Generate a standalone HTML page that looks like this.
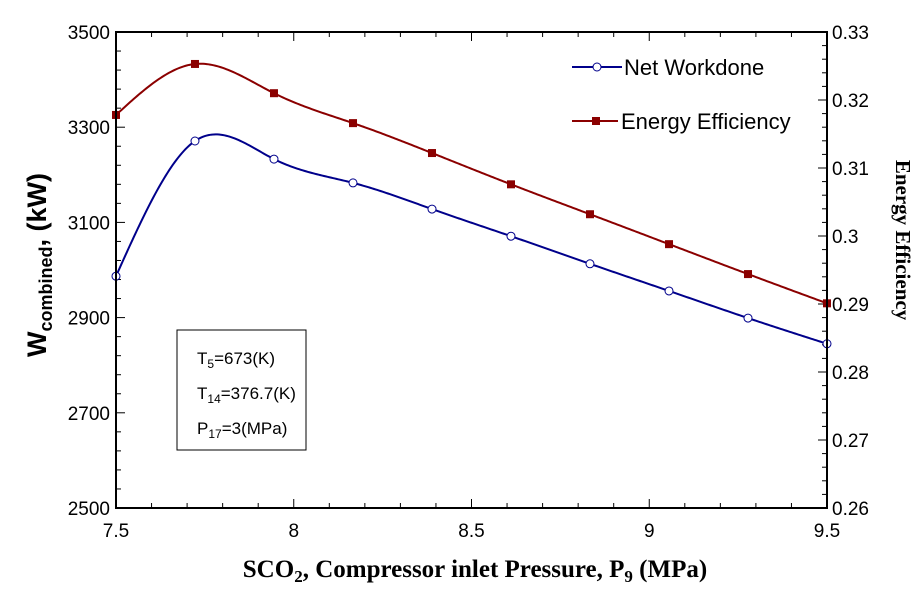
<!DOCTYPE html>
<html><head><meta charset="utf-8"><style>
body{margin:0;background:#fff;}
svg text{font-family:"Liberation Sans",sans-serif;}
</style></head><body>
<svg id="chart" width="924" height="600" xmlns="http://www.w3.org/2000/svg">
<g id="ticks"></g>
<g id="series"></g>
<g>
 <line x1="572" y1="67" x2="622" y2="67" stroke="#00008B" stroke-width="2"/>
 <circle cx="597" cy="67" r="4" fill="#fff" stroke="#00008B" stroke-width="1"/>
 <text x="624" y="75" font-size="22">Net Workdone</text>
 <line x1="572" y1="121" x2="618" y2="121" stroke="#8B0000" stroke-width="2"/>
 <rect x="592" y="117" width="8" height="8" fill="#8B0000"/>
 <text x="621" y="129" font-size="22">Energy Efficiency</text>
</g>
<g>
 <rect x="177" y="330" width="129" height="120" fill="#fff" stroke="#000" stroke-width="1"/>
 <text x="197" y="364" font-size="17">T<tspan font-size="12" dy="4">5</tspan><tspan dy="-4">=673(K)</tspan></text>
 <text x="197" y="399" font-size="17">T<tspan font-size="12" dy="4">14</tspan><tspan dy="-4">=376.7(K)</tspan></text>
 <text x="197" y="434" font-size="17">P<tspan font-size="12" dy="4">17</tspan><tspan dy="-4">=3(MPa)</tspan></text>
</g>
<rect x="116" y="32" width="711" height="476" fill="none" stroke="#000" stroke-width="2"/>
<text x="475" y="577" text-anchor="middle" font-size="25" font-weight="bold" style="font-family:'Liberation Serif',serif">SCO<tspan font-size="17" dy="5">2</tspan><tspan dy="-5">, Compressor inlet Pressure, P</tspan><tspan font-size="17" dy="5">9</tspan><tspan dy="-5"> (MPa)</tspan></text>
<text transform="translate(46,265) rotate(-90)" text-anchor="middle" font-size="27" font-weight="bold">W<tspan font-size="18" dy="6">combined</tspan><tspan dy="-6">, (kW)</tspan></text>
<text transform="translate(896,240) rotate(90)" text-anchor="middle" font-size="21" font-weight="bold" style="font-family:'Liberation Serif',serif">Energy Efficiency</text>
</svg>
<script>
const xVals=[7.5,7.7222,7.9444,8.1667,8.3889,8.6111,8.8333,9.0556,9.2778,9.5];
const netWork=[2987,3271,3233,3183,3128,3071,3013,2956,2899,2845];
const efficiency=[0.3178,0.3253,0.3210,0.3166,0.3122,0.3076,0.3032,0.2988,0.2944,0.2901];
const xTicks=[7.5,8,8.5,9,9.5];
const xTickLabels=["7.5","8","8.5","9","9.5"];
const yTicks=[2500,2700,2900,3100,3300,3500];
const y2Ticks=[0.26,0.27,0.28,0.29,0.30,0.31,0.32,0.33];
const y2TickLabels=["0.26","0.27","0.28","0.29","0.3","0.31","0.32","0.33"];
const L=116,R=827,T=32,B=508,NS="http://www.w3.org/2000/svg";
const sx=v=>L+(v-7.5)/2*(R-L);
const sy=v=>B-(v-2500)/1000*(B-T);
const sy2=v=>B-(v-0.26)/0.07*(B-T);
function mk(tag,attrs,parent){const e=document.createElementNS(NS,tag);for(const k in attrs)e.setAttribute(k,attrs[k]);parent.appendChild(e);return e;}
const tk=document.getElementById('ticks'),sr=document.getElementById('series');
for(let v=7.5;v<=9.5001;v+=0.1){const x=sx(v);const major=Math.abs(v*2-Math.round(v*2))<1e-6;const l=major?9:5;
 mk('line',{x1:x,y1:B,x2:x,y2:B-l,stroke:'#000'},tk);mk('line',{x1:x,y1:T,x2:x,y2:T+l,stroke:'#000'},tk);}
for(let v=2500;v<=3500;v+=40){const y=sy(v);const l=(v-2500)%200===0?9:5;mk('line',{x1:L,y1:y,x2:L+l,y2:y,stroke:'#000'},tk);}
for(let v=0.26;v<=0.33001;v+=0.002){const y=sy2(v);const l=Math.abs(v*100-Math.round(v*100))<1e-6?9:5;mk('line',{x1:R,y1:y,x2:R-l,y2:y,stroke:'#000'},tk);}
xTicks.forEach((v,i)=>{const t=mk('text',{x:sx(v),y:537,'text-anchor':'middle','font-size':19},tk);t.textContent=xTickLabels[i];

});
yTicks.forEach(v=>{const t=mk('text',{x:110,y:sy(v)+7,'text-anchor':'end','font-size':19},tk);t.textContent=v;

});
y2Ticks.forEach((v,i)=>{const t=mk('text',{x:832,y:sy2(v)+7,'font-size':19},tk);t.textContent=y2TickLabels[i];

});
function spline(xs,ys){const n=xs.length,h=[],a=[],l=[1],mu=[0],z=[0],c=new Array(n).fill(0),b=[],d=[];
 for(let i=0;i<n-1;i++)h.push(xs[i+1]-xs[i]);
 for(let i=1;i<n-1;i++)a[i]=3/h[i]*(ys[i+1]-ys[i])-3/h[i-1]*(ys[i]-ys[i-1]);
 for(let i=1;i<n-1;i++){l[i]=2*(xs[i+1]-xs[i-1])-h[i-1]*mu[i-1];mu[i]=h[i]/l[i];z[i]=(a[i]-h[i-1]*z[i-1])/l[i];}
 for(let j=n-2;j>=0;j--){c[j]=(j>0?z[j]:0)-mu[j]*c[j+1];b[j]=(ys[j+1]-ys[j])/h[j]-h[j]*(c[j+1]+2*c[j])/3;d[j]=(c[j+1]-c[j])/(3*h[j]);}
 return x=>{let i=Math.min(n-2,Math.max(0,xs.findIndex((v,k)=>x>=v&&x<=xs[k+1])));const dx=x-xs[i];return ys[i]+b[i]*dx+c[i]*dx*dx+d[i]*dx*dx*dx;};}
function curve(ys,scale,color,name){const f=spline(xVals,ys);let d='';for(let k=0;k<=400;k++){const x=7.5+2*k/400;d+=(k?'L':'M')+sx(x).toFixed(2)+','+scale(f(x)).toFixed(2);}
 const p=mk('path',{d:d,fill:'none',stroke:color,'stroke-width':2},sr);
 
 }
curve(efficiency,sy2,'#8B0000','energy-efficiency-line');
curve(netWork,sy,'#00008B','net-workdone-line');
efficiency.forEach((v,i)=>{const r=mk('rect',{x:sx(xVals[i])-4,y:sy2(v)-4,width:8,height:8,fill:'#8B0000'},sr);
 
 });
netWork.forEach((v,i)=>{const c=mk('circle',{cx:sx(xVals[i]),cy:sy(v),r:4,fill:'#fff',stroke:'#00008B'},sr);
 
 });
</script>
</body></html>
